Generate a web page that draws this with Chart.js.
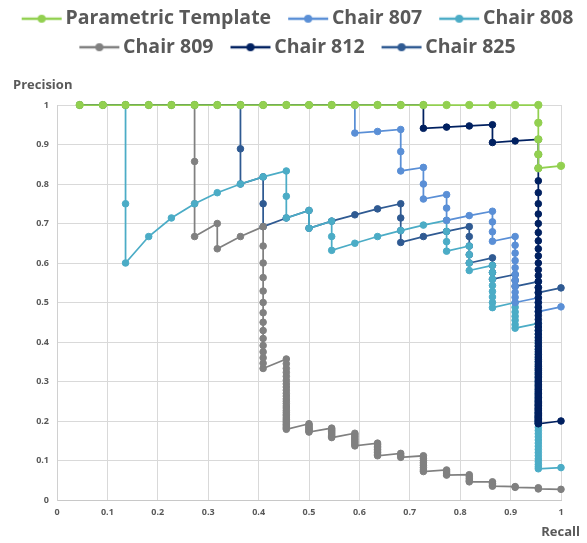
<!DOCTYPE html>
<html>
<head>
<meta charset="utf-8">
<script src="https://cdn.jsdelivr.net/npm/chart.js@4.4.1/dist/chart.umd.min.js"></script>
<style>
  body { margin: 0; background: #ffffff; }
  #wrap { width: 587px; height: 543px; }
</style>
</head>
<body>
<div id="wrap"><canvas id="pr_graph" width="587" height="543"></canvas></div>
<script>
// recall steps (22 objects) and the precision values seen at each step, top to bottom
const recall = [0.045, 0.091, 0.136, 0.182, 0.227, 0.273, 0.318, 0.364, 0.409, 0.455, 0.5,
                0.545, 0.591, 0.636, 0.682, 0.727, 0.773, 0.818, 0.864, 0.909, 0.955, 1];

const template = [
    [1], [1], [1], [1], [1], [1], [1], [1], [1], [1],
    [1], [1], [1], [1], [1], [1], [1], [1], [1], [1],
    [1, 0.955, 0.913, 0.875, 0.84],
    [0.846]
];

const chair807 = [
    [1], [1], [1], [1], [1], [1], [1], [1], [1], [1], [1], [1],
    [1, 0.929],
    [0.933],
    [0.938, 0.882, 0.833],
    [0.842, 0.8, 0.762],
    [0.773, 0.739, 0.708],
    [0.72],
    [0.731, 0.704, 0.679, 0.655],
    [0.667, 0.645, 0.625, 0.606, 0.588, 0.571, 0.556, 0.541, 0.526, 0.513, 0.5],
    [0.512, 0.5, 0.488, 0.477],
    [0.489]
];

const chair808 = [
    [1], [1],
    [1, 0.75, 0.6],
    [0.667], [0.714], [0.75], [0.778], [0.8], [0.818],
    [0.833, 0.769, 0.714],
    [0.733, 0.688],
    [0.706, 0.667, 0.632],
    [0.65], [0.667], [0.682], [0.696],
    [0.708, 0.68, 0.654, 0.63],
    [0.643, 0.621, 0.6, 0.581],
    [0.594, 0.576, 0.559, 0.543, 0.528, 0.514, 0.5, 0.487],
    [0.5, 0.488, 0.476, 0.465, 0.455, 0.444, 0.435],
    [0.447, 0.438, 0.429, 0.42, 0.41, 0.4, 0.39, 0.38, 0.37, 0.36, 0.35, 0.34, 0.33, 0.32,
     0.31, 0.3, 0.29, 0.28, 0.27, 0.26, 0.25, 0.24, 0.23, 0.22, 0.21, 0.2, 0.192, 0.184,
     0.176, 0.168, 0.16, 0.152, 0.144, 0.136, 0.128, 0.12, 0.112, 0.104, 0.097, 0.09, 0.084, 0.079],
    [0.082]
];

const chair809 = [
    [1], [1], [1], [1], [1],
    [1, 0.857, 0.75, 0.667],
    [0.7, 0.636],
    [0.667],
    [0.692, 0.643, 0.6, 0.563, 0.529, 0.5, 0.474, 0.45, 0.429, 0.409, 0.391, 0.375, 0.36, 0.346, 0.333],
    [0.357, 0.345, 0.333, 0.323, 0.313, 0.303, 0.294, 0.286, 0.278, 0.27, 0.263, 0.256, 0.25,
     0.244, 0.238, 0.233, 0.227, 0.222, 0.217, 0.213, 0.208, 0.204, 0.2, 0.196, 0.192, 0.189,
     0.185, 0.182, 0.179],
    [0.193, 0.19, 0.186, 0.183, 0.18, 0.177, 0.174, 0.172],
    [0.182, 0.179, 0.176, 0.173, 0.17, 0.167, 0.164, 0.161, 0.158],
    [0.169, 0.165, 0.161, 0.157, 0.153, 0.149, 0.145, 0.141, 0.137],
    [0.144, 0.14, 0.136, 0.132, 0.128, 0.124, 0.12, 0.116, 0.112],
    [0.118, 0.113, 0.108],
    [0.112, 0.106, 0.1, 0.094, 0.088, 0.082, 0.076, 0.072],
    [0.076, 0.071, 0.066, 0.063],
    [0.064, 0.059, 0.054, 0.049, 0.046],
    [0.046, 0.042, 0.038, 0.035],
    [0.034, 0.032],
    [0.031, 0.028],
    [0.027]
];

const chair812 = [
    [1], [1], [1], [1], [1], [1], [1], [1], [1], [1], [1], [1], [1], [1], [1],
    [1, 0.941],
    [0.944],
    [0.947],
    [0.95, 0.905],
    [0.909],
    [0.913, 0.875, 0.84, 0.808, 0.778, 0.75, 0.724, 0.7, 0.677, 0.656, 0.636, 0.618, 0.6, 0.583,
     0.568, 0.553, 0.538, 0.525, 0.512, 0.5, 0.488, 0.477, 0.467, 0.457, 0.447, 0.438, 0.429,
     0.42, 0.412, 0.404, 0.396, 0.389, 0.382, 0.375, 0.368, 0.362, 0.356, 0.35, 0.344, 0.338,
     0.333, 0.328, 0.323, 0.318, 0.313, 0.309, 0.304, 0.3, 0.296, 0.292, 0.288, 0.284, 0.28,
     0.276, 0.273, 0.269, 0.266, 0.263, 0.259, 0.256, 0.253, 0.25, 0.247, 0.244, 0.241, 0.239,
     0.236, 0.233, 0.231, 0.228, 0.226, 0.223, 0.221, 0.219, 0.216, 0.214, 0.212, 0.21, 0.208,
     0.206, 0.204, 0.202, 0.2, 0.198, 0.196, 0.194, 0.193],
    [0.2]
];

const chair825 = [
    [1], [1], [1], [1], [1], [1], [1],
    [1, 0.889, 0.8],
    [0.818, 0.75, 0.692],
    [0.714],
    [0.733, 0.688],
    [0.706],
    [0.722],
    [0.737],
    [0.75, 0.714, 0.682, 0.652],
    [0.667],
    [0.68],
    [0.692, 0.667, 0.643, 0.621, 0.6],
    [0.613, 0.594, 0.576, 0.559],
    [0.571, 0.556, 0.541],
    [0.553, 0.538, 0.525],
    [0.537]
];

const seriesNames = ["Parametric Template", "Chair 807", "Chair 808", "Chair 809", "Chair 812", "Chair 825"];
const seriesData  = [template, chair807, chair808, chair809, chair812, chair825];
const colors      = ["#92D050", "#5A8FD6", "#4BACC6", "#808080", "#002060", "#2F5A92"];
// drawing order: higher is drawn first (underneath)
const drawOrder   = [0, 2, 3, 4, 1, 5];
const tickLabels  = ["0", "0.1", "0.2", "0.3", "0.4", "0.5", "0.6", "0.7", "0.8", "0.9", "1"];
const xTitle      = "Recall";
const yTitle      = "Precision";

const textColor = "#595959";
const fontName  = "'Open Sans', 'Liberation Sans', sans-serif";

function to_points(series){
    let pts = [];
    series.forEach((col, i) => {
        for (let p of col){
            pts.push({x: recall[i], y: p});
        }
    });
    return pts;
}

function legend_icon(color){
    let c = document.createElement("canvas");
    c.width  = 56;
    c.height = 12;
    let g = c.getContext("2d");
    g.strokeStyle = color;
    g.lineWidth = 2.6;
    g.beginPath();
    g.moveTo(15, 6);
    g.lineTo(55, 6);
    g.stroke();
    g.fillStyle = color;
    g.beginPath();
    g.arc(35, 6, 4, 0, Math.PI * 2);
    g.fill();
    return c;
}

let datasets = [];
for (let i = 0; i < seriesNames.length; i++){
    let r = (i === 0) ? 3.7 : 3.3;
    datasets.push({
        label: seriesNames[i],
        data: to_points(seriesData[i]),
        showLine: true,
        borderColor: colors[i],
        backgroundColor: colors[i],
        pointBackgroundColor: colors[i],
        pointBorderColor: colors[i],
        borderWidth: 1.75,
        pointRadius: r,
        pointHoverRadius: r,
        pointBorderWidth: 1,
        tension: 0,
        clip: false,
        order: drawOrder[i]
    });
}

const axisTitles = {
    id: "axisTitles",
    beforeInit(chart){
        // leave room between the legend and the plot for the "Precision" label
        const fit = chart.legend.fit;
        chart.legend.fit = function(){
            fit.call(chart.legend);
            this.height += 38;
        };
    },
    afterDraw(chart){
        const ctx  = chart.ctx;
        const area = chart.chartArea;
        ctx.save();
        ctx.font = "bold 13px " + fontName;
        ctx.fillStyle = textColor;
        ctx.textBaseline = "middle";
        ctx.textAlign = "left";
        ctx.fillText(yTitle, area.left - 44, area.top - 20);
        ctx.textAlign = "right";
        ctx.fillText(xTitle, area.right + 19, area.bottom + 32);
        ctx.restore();
    }
};

const ctx = document.getElementById("pr_graph").getContext("2d");
const myChart = new Chart(ctx, {
    type: "scatter",
    data: { datasets: datasets },
    plugins: [axisTitles],
    options: {
        responsive: false,
        animation: false,
        layout: { padding: 0 },
        scales: {
            x: {
                type: "linear",
                min: 0,
                max: 1,
                afterFit(scale){
                    scale.height = 43;
                    scale.paddingRight = 26;
                },
                ticks: {
                    stepSize: 0.1,
                    padding: 7,
                    color: textColor,
                    font: { family: fontName, size: 9, weight: "bold" },
                    callback: (v) => tickLabels[Math.round(v * 10)]
                },
                grid: { color: "#D9D9D9", drawTicks: false },
                border: { color: "#C8C8C8" }
            },
            y: {
                min: 0,
                max: 1,
                afterFit(scale){
                    scale.width = 57;
                },
                ticks: {
                    stepSize: 0.1,
                    padding: 8,
                    color: textColor,
                    font: { family: fontName, size: 9, weight: "bold" },
                    callback: (v) => tickLabels[Math.round(v * 10)]
                },
                grid: { color: "#D9D9D9", drawTicks: false },
                border: { color: "#D0D0D0" }
            }
        },
        plugins: {
            tooltip: { enabled: false },
            legend: {
                position: "top",
                labels: {
                    usePointStyle: true,
                    pointStyleWidth: 42,
                    padding: 9,
                    color: textColor,
                    font: { family: fontName, size: 19.5, weight: "bold" },
                    sort: (a, b) => a.datasetIndex - b.datasetIndex,
                    generateLabels(chart){
                        let items = Chart.defaults.plugins.legend.labels.generateLabels(chart);
                        for (let item of items){
                            item.pointStyle = legend_icon(colors[item.datasetIndex]);
                        }
                        return items;
                    }
                }
            }
        }
    }
});
</script>
</body>
</html>
